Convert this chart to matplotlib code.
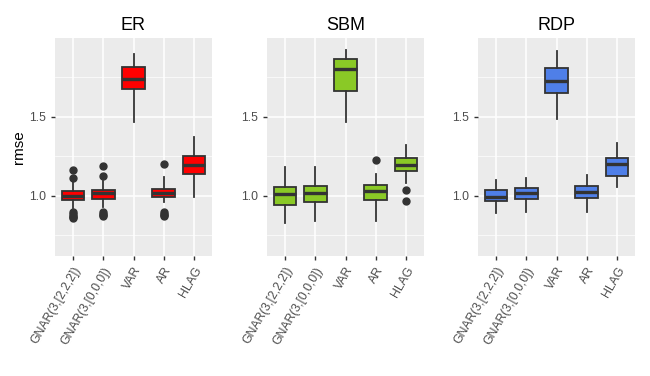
import numpy as np
import matplotlib.pyplot as plt

plt.rcParams['font.family'] = ['Liberation Sans', 'DejaVu Sans']

methods = ["GNAR(3,[2,2,2])", "GNAR(3,[0,0,0])", "VAR", "AR", "HLAG"]
networks = ["ER", "SBM", "RDP"]
fills = {"ER": "#FF0000", "SBM": "#8AC926", "RDP": "#4F7FE8"}

# box summaries, one list per network, in method order
q1 = {
    "ER": [0.974, 0.977, 1.673, 0.994, 1.137],
    "SBM": [0.943, 0.958, 1.660, 0.975, 1.154],
    "RDP": [0.968, 0.977, 1.648, 0.985, 1.128],
}
med = {
    "ER": [0.998, 1.015, 1.736, 1.015, 1.196],
    "SBM": [1.011, 1.017, 1.800, 1.033, 1.194],
    "RDP": [0.990, 1.015, 1.728, 1.025, 1.200],
}
q3 = {
    "ER": [1.028, 1.036, 1.816, 1.046, 1.251],
    "SBM": [1.053, 1.064, 1.865, 1.068, 1.239],
    "RDP": [1.036, 1.049, 1.808, 1.065, 1.242],
}
whislo = {
    "ER": [0.925, 0.930, 1.464, 0.958, 0.990],
    "SBM": [0.830, 0.840, 1.464, 0.840, 1.080],
    "RDP": [0.890, 0.900, 1.485, 0.900, 1.053],
}
whishi = {
    "ER": [1.085, 1.095, 1.897, 1.116, 1.369],
    "SBM": [1.180, 1.184, 1.920, 1.140, 1.320],
    "RDP": [1.100, 1.114, 1.913, 1.133, 1.333],
}
fliers = {
    "ER": [[1.165, 1.112, 0.895, 0.885, 0.875, 0.865, 0.858],
           [1.188, 1.128, 0.895, 0.886, 0.878, 0.870],
           [],
           [1.200, 0.895, 0.887, 0.878, 0.870],
           []],
    "SBM": [[], [], [], [1.228], [1.035, 0.970]],
    "RDP": [[], [], [], [], []],
}

fig = plt.figure(figsize=(6.5, 3.76), dpi=100)
lefts = [55, 267, 478]
for k, net in enumerate(networks):
    ax = fig.add_axes([lefts[k] / 650, 1 - 255.5 / 376, 157 / 650, 217.5 / 376])
    ax.set_facecolor("#EBEBEB")
    stats = []
    for i in range(len(methods)):
        stats.append({"q1": q1[net][i], "med": med[net][i], "q3": q3[net][i],
                      "whislo": whislo[net][i], "whishi": whishi[net][i],
                      "fliers": fliers[net][i], "label": methods[i]})
    ax.bxp(stats, positions=range(1, 6), widths=0.75, patch_artist=True, showcaps=False,
           boxprops=dict(facecolor=fills[net], edgecolor="#333333", linewidth=1.3),
           medianprops=dict(color="#333333", linewidth=2.4),
           whiskerprops=dict(color="#333333", linewidth=1.3),
           flierprops=dict(marker="o", markerfacecolor="#333333", markeredgecolor="#333333",
                           markersize=5),
           zorder=3)
    ax.set_xlim(0.4, 5.6)
    ax.set_ylim(0.623, 1.997)
    ax.set_yticks([1.0, 1.5])
    ax.set_yticklabels(["1.0", "1.5"])
    ax.set_yticks([0.75, 1.25, 1.75], minor=True)
    ax.set_xticks(range(1, 6))
    ax.set_xticklabels(methods, rotation=60, ha="right", rotation_mode="anchor")
    ax.grid(True, which="major", color="white", linewidth=1.1, zorder=0)
    ax.grid(True, which="minor", axis="y", color="white", linewidth=0.5, zorder=0)
    ax.set_axisbelow(True)
    for s in ax.spines.values():
        s.set_visible(False)
    ax.tick_params(axis="both", which="major", colors="#333333", labelcolor="#4D4D4D",
                   labelsize=8.8, length=3, width=1)
    ax.tick_params(axis="y", which="minor", length=0)
    ax.set_title(net, fontsize=13, pad=6)
    if k == 0:
        ax.set_ylabel("rmse", fontsize=11, labelpad=2)

fig.savefig("out.png", dpi=100)
